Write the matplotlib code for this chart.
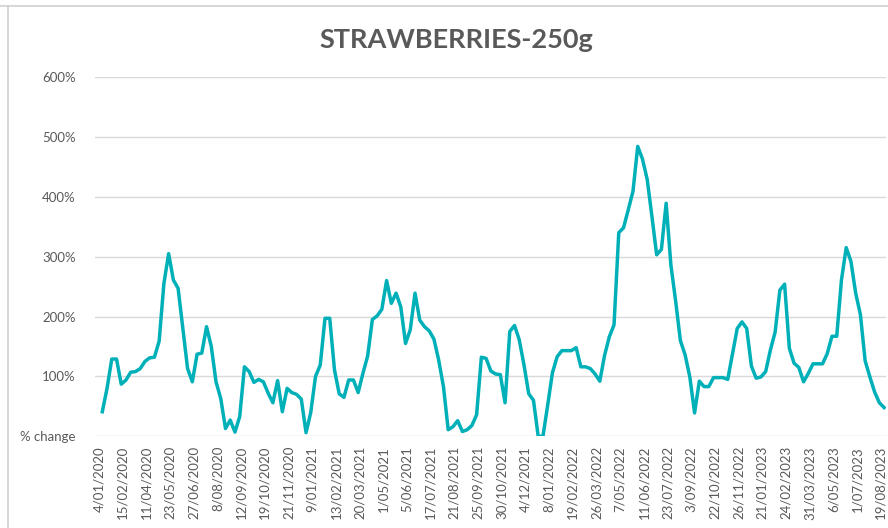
import matplotlib
matplotlib.use("Agg")
import matplotlib.pyplot as plt
from matplotlib.lines import Line2D

title = "STRAWBERRIES-250g"

tick_labels = [
    "4/01/2020", "15/02/2020", "11/04/2020", "23/05/2020", "27/06/2020", "8/08/2020",
    "12/09/2020", "19/10/2020", "21/11/2020", "9/01/2021", "13/02/2021", "20/03/2021",
    "1/05/2021", "5/06/2021", "17/07/2021", "21/08/2021", "25/09/2021", "30/10/2021",
    "4/12/2021", "8/01/2022", "19/02/2022", "26/03/2022", "7/05/2022", "11/06/2022",
    "23/07/2022", "3/09/2022", "22/10/2022", "26/11/2022", "21/01/2023", "24/02/2023",
    "31/03/2023", "6/05/2023", "1/07/2023", "19/08/2023",
]
label_every = 5

values_pct = [
    41, 80, 129, 129, 87, 94, 107, 108, 113, 125,
    131, 132, 159, 255, 305, 261, 247, 180, 113, 91,
    137, 139, 183, 150, 91, 63, 13, 27, 7, 33,
    116, 108, 90, 95, 91, 72, 56, 93, 41, 80,
    73, 70, 62, 6, 40, 100, 119, 197, 197, 111,
    71, 65, 94, 94, 73, 105, 134, 195, 201, 212,
    260, 222, 239, 216, 155, 178, 239, 194, 183, 176,
    162, 127, 83, 11, 16, 26, 8, 11, 18, 36,
    132, 130, 109, 104, 103, 56, 175, 185, 161, 119,
    71, 60, 0, 0, 52, 106, 133, 143, 143, 143,
    148, 116, 116, 113, 104, 92, 135, 166, 186, 340,
    348, 378, 409, 484, 463, 429, 367, 303, 312, 389,
    286, 226, 160, 136, 99, 39, 92, 83, 83, 98,
    98, 98, 95, 138, 180, 191, 180, 117, 97, 99,
    108, 144, 174, 244, 254, 147, 122, 115, 91, 105,
    121, 121, 121, 138, 167, 167, 261, 315, 292, 239,
    203, 126, 99, 74, 56, 48,
]

y_ticks = [0, 100, 200, 300, 400, 500, 600]
y_tick_labels = ["% change", "100%", "200%", "300%", "400%", "500%", "600%"]

plt.rcParams["font.family"] = ["Lato", "DejaVu Sans"]
text_color = "#595959"
line_color = "#00B0B9"
grid_color = "#D9D9D9"

W, H = 888, 528
fig = plt.figure(figsize=(W / 100, H / 100), dpi=100)
ax = fig.add_axes([95 / W, (H - 436.3) / H, (886 - 95) / W, (436.3 - 76.9) / H])

x = list(range(len(values_pct)))
ax.plot(x, values_pct, color=line_color, linewidth=2.5, solid_joinstyle="round", zorder=3)

ax.set_xlim(-1.54, 165.4)
ax.set_ylim(0, 600)
ax.set_yticks(y_ticks)
ax.set_yticklabels(y_tick_labels)
ax.set_xticks([i * label_every - 0.7 for i in range(len(tick_labels))])
ax.set_xticklabels(tick_labels, rotation=90)

ax.tick_params(axis="y", length=0, pad=14, labelsize=9.5, labelcolor=text_color)
ax.tick_params(axis="x", length=0, pad=7, labelsize=9.5, labelcolor=text_color)
ax.yaxis.grid(True, color=grid_color, linewidth=1.0, zorder=0)
ax.xaxis.grid(False)
for s in ax.spines.values():
    s.set_visible(False)
ax.set_axisbelow(True)

fig.text(456 / W, 1 - 40 / H, title, ha="center", va="center",
         fontsize=19.5, fontweight="bold", color=text_color)

# surrounding worksheet/chart border lines
fig.add_artist(Line2D([0, 1], [1 - 6 / H, 1 - 6 / H], color="#D0D0D0", linewidth=1.2))
fig.add_artist(Line2D([8 / W, 8 / W], [0, 1 - 6 / H], color="#D0D0D0", linewidth=1.2))

fig.savefig("out.png", dpi=100)
